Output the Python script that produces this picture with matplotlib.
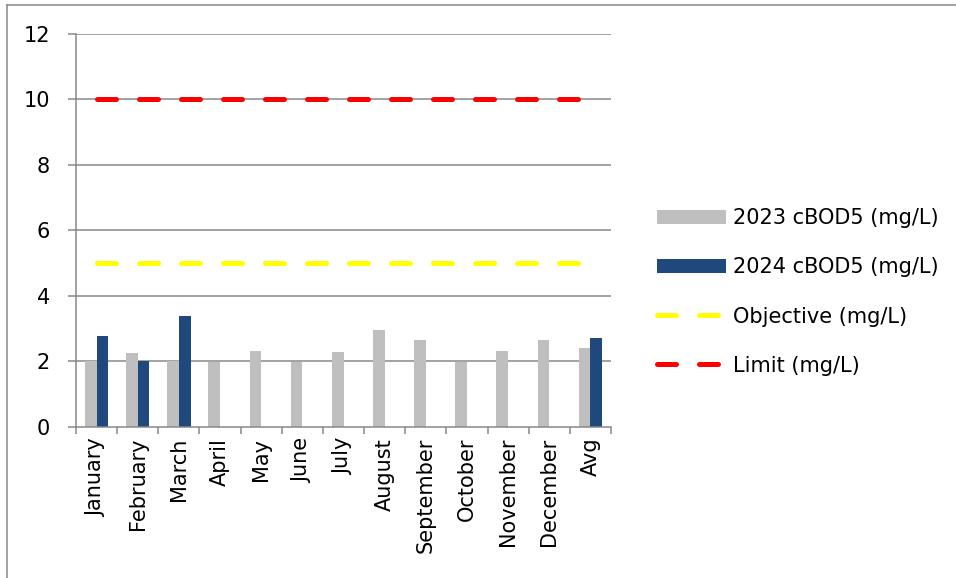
import matplotlib
matplotlib.use("Agg")
import matplotlib.pyplot as plt
import numpy as np
from matplotlib.lines import Line2D

plt.rcParams['font.family'] = ['DejaVu Sans']
plt.rcParams['lines.scale_dashes'] = False

categories = ["January", "February", "March", "April", "May", "June", "July",
              "August", "September", "October", "November", "December", "Avg"]
cbod_2023 = [2.00, 2.24, 2.00, 1.99, 2.31, 1.98, 2.27, 2.94, 2.65, 1.98, 2.31, 2.65, 2.41]
cbod_2024 = [2.77, 2.00, 3.39, np.nan, np.nan, np.nan, np.nan, np.nan, np.nan, np.nan, np.nan, np.nan, 2.71]
objective = [5] * 13
limit = [10] * 13
yticks = [0, 2, 4, 6, 8, 10, 12]

W, H = 956, 578
fig = plt.figure(figsize=(W / 100, H / 100), dpi=100)
ax = fig.add_axes([76 / W, 1 - 426.7 / H, (611 - 76) / W, (426.7 - 34) / H])

grid_c = "#868686"
x = np.arange(len(categories))
bw = 0.284
b1 = ax.bar(x - bw / 2, cbod_2023, width=bw, color="#BFBFBF", label="2023 cBOD5 (mg/L)", zorder=3)
b2 = ax.bar(x + bw / 2, cbod_2024, width=bw, color="#1F497D", label="2024 cBOD5 (mg/L)", zorder=3)

px = 0.72  # points per pixel
dash = (0, (19 * px, 23 * px))
l1, = ax.plot(x, objective, color="#FFFF00", lw=5 * px, linestyle=dash, dash_capstyle="round",
              label="Objective (mg/L)", zorder=4)
l2, = ax.plot(x, limit, color="#FF0000", lw=5 * px, linestyle=dash, dash_capstyle="round",
              label="Limit (mg/L)", zorder=4)

ax.set_xlim(-0.5, len(categories) - 0.5)
ax.set_ylim(0, 12)
ax.set_yticks(yticks)
ax.set_yticklabels([str(v) for v in yticks])
for v in yticks[1:]:
    ax.axhline(v, color=grid_c, lw=1.5 * px, zorder=1)

ax.set_xticks(x)
ax.set_xticklabels(categories, rotation=90, va="top", ha="center")
ax.set_xticks(np.arange(-0.5, len(categories)), minor=True)
ax.tick_params(axis="x", which="major", length=0, pad=8, labelsize=15)
ax.tick_params(axis="x", which="minor", length=7 * px, width=1.5 * px, color=grid_c, direction="out")
ax.tick_params(axis="y", length=8 * px, width=1.5 * px, color=grid_c, direction="out", pad=13, labelsize=15)

for s in ["top", "right"]:
    ax.spines[s].set_visible(False)
for s in ["left", "bottom"]:
    ax.spines[s].set_color(grid_c)
    ax.spines[s].set_linewidth(1.5 * px)
    ax.spines[s].set_zorder(5)

ax.legend(handles=[b1, b2, l1, l2], loc="center left", bbox_to_anchor=(647 / W, 1 - 292 / H),
          bbox_transform=fig.transFigure, frameon=False, fontsize=15,
          handlelength=3.27, handletextpad=0.38, labelspacing=1.4,
          handleheight=0.7, borderpad=0)

# outer chart border
fig.add_artist(Line2D([7 / W, 7 / W], [0, 1 - 5 / H], color=grid_c, lw=1.5 * px,
                      transform=fig.transFigure))
fig.add_artist(Line2D([7 / W, 1], [1 - 5 / H, 1 - 5 / H], color=grid_c, lw=1.5 * px,
                      transform=fig.transFigure))

fig.savefig("out.png", dpi=100)
